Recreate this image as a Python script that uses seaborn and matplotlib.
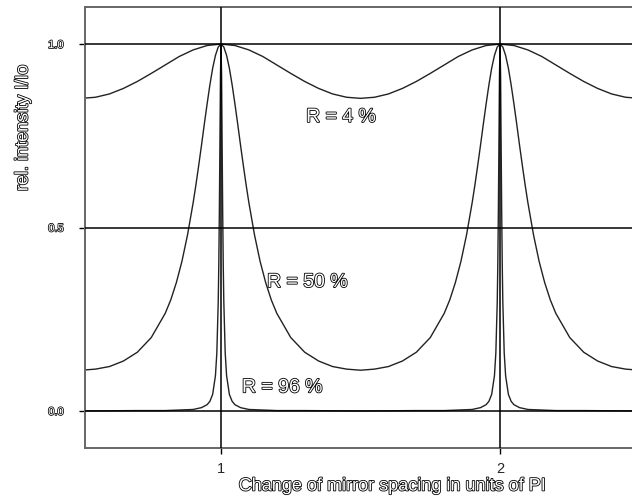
import matplotlib
matplotlib.use("Agg")
import matplotlib.pyplot as plt
import matplotlib.patheffects as pe
import numpy as np
import pandas as pd
import seaborn as sns

# ---- data ----
x_r04 = [0.50, 0.55, 0.60, 0.65, 0.70, 0.75, 0.80, 0.85, 0.90, 0.95,
         1.00, 1.05, 1.10, 1.15, 1.20, 1.25, 1.30, 1.35, 1.40, 1.45,
         1.50, 1.55, 1.60, 1.65, 1.70, 1.75, 1.80, 1.85, 1.90, 1.95,
         2.00, 2.05, 2.10, 2.15, 2.20, 2.25, 2.30, 2.35, 2.40, 2.45, 2.50]
y_r04 = [0.852, 0.855, 0.864, 0.879, 0.898, 0.920, 0.943, 0.966, 0.984, 0.996,
         1.000, 0.996, 0.984, 0.966, 0.943, 0.920, 0.898, 0.879, 0.864, 0.855,
         0.852, 0.855, 0.864, 0.879, 0.898, 0.920, 0.943, 0.966, 0.984, 0.996,
         1.000, 0.996, 0.984, 0.966, 0.943, 0.920, 0.898, 0.879, 0.864, 0.855, 0.852]

x_r50 = [0.50, 0.55, 0.60, 0.65, 0.70, 0.75, 0.80, 0.82, 0.84, 0.86, 0.88,
         0.90, 0.91, 0.92, 0.93, 0.94, 0.95, 0.96, 0.97, 0.98, 0.99,
         1.00, 1.01, 1.02, 1.03, 1.04, 1.05, 1.06, 1.07, 1.08, 1.09, 1.10,
         1.12, 1.14, 1.16, 1.18, 1.20, 1.25, 1.30, 1.35, 1.40, 1.45,
         1.50, 1.55, 1.60, 1.65, 1.70, 1.75, 1.80, 1.82, 1.84, 1.86, 1.88,
         1.90, 1.91, 1.92, 1.93, 1.94, 1.95, 1.96, 1.97, 1.98, 1.99,
         2.00, 2.01, 2.02, 2.03, 2.04, 2.05, 2.06, 2.07, 2.08, 2.09, 2.10,
         2.12, 2.14, 2.16, 2.18, 2.20, 2.25, 2.30, 2.35, 2.40, 2.45, 2.50]
y_r50 = [0.111, 0.114, 0.121, 0.136, 0.160, 0.200, 0.266, 0.303, 0.350, 0.408, 0.480,
         0.567, 0.616, 0.669, 0.724, 0.781, 0.836, 0.888, 0.934, 0.969, 0.992,
         1.000, 0.992, 0.969, 0.934, 0.888, 0.836, 0.781, 0.724, 0.669, 0.616, 0.567,
         0.480, 0.408, 0.350, 0.303, 0.266, 0.200, 0.160, 0.136, 0.121, 0.114,
         0.111, 0.114, 0.121, 0.136, 0.160, 0.200, 0.266, 0.303, 0.350, 0.408, 0.480,
         0.567, 0.616, 0.669, 0.724, 0.781, 0.836, 0.888, 0.934, 0.969, 0.992,
         1.000, 0.992, 0.969, 0.934, 0.888, 0.836, 0.781, 0.724, 0.669, 0.616, 0.567,
         0.480, 0.408, 0.350, 0.303, 0.266, 0.200, 0.160, 0.136, 0.121, 0.114, 0.111]

x_r96 = [0.50, 0.70, 0.80, 0.90, 0.93, 0.95, 0.96, 0.97, 0.98, 0.985, 0.99,
         0.992, 0.994, 0.996, 0.998, 1.000, 1.002, 1.004, 1.006, 1.008, 1.01,
         1.015, 1.02, 1.03, 1.04, 1.05, 1.07, 1.10, 1.20, 1.30, 1.50,
         1.70, 1.80, 1.90, 1.93, 1.95, 1.96, 1.97, 1.98, 1.985, 1.99,
         1.992, 1.994, 1.996, 1.998, 2.000, 2.002, 2.004, 2.006, 2.008, 2.01,
         2.015, 2.02, 2.03, 2.04, 2.05, 2.07, 2.10, 2.20, 2.30, 2.50]
y_r96 = [0.000, 0.001, 0.001, 0.004, 0.009, 0.017, 0.026, 0.045, 0.096, 0.158, 0.297,
         0.397, 0.540, 0.725, 0.914, 1.000, 0.914, 0.725, 0.540, 0.397, 0.297,
         0.158, 0.096, 0.045, 0.026, 0.017, 0.009, 0.004, 0.001, 0.001, 0.000,
         0.001, 0.001, 0.004, 0.009, 0.017, 0.026, 0.045, 0.096, 0.158, 0.297,
         0.397, 0.540, 0.725, 0.914, 1.000, 0.914, 0.725, 0.540, 0.397, 0.297,
         0.158, 0.096, 0.045, 0.026, 0.017, 0.009, 0.004, 0.001, 0.001, 0.000]

labels = ["R = 4 %", "R = 50 %", "R = 96 %"]
label_pos = [(1.305, 0.80), (1.165, 0.35), (1.075, 0.063)]
yticks = [0.0, 0.5, 1.0]
ytick_labels = ["0.0", "0.5", "1.0"]
xticks = [1, 2]
xtick_labels = ["1", "2"]

df = pd.concat([
    pd.DataFrame({"x": x_r04, "y": y_r04, "R": labels[0]}),
    pd.DataFrame({"x": x_r50, "y": y_r50, "R": labels[1]}),
    pd.DataFrame({"x": x_r96, "y": y_r96, "R": labels[2]}),
])

sns.set_style("white")
plt.rcParams["font.family"] = ["Liberation Sans", "DejaVu Sans"]

fig = plt.figure(figsize=(6.32, 5.0), dpi=100)
ax = fig.add_axes([85 / 632, 52 / 500, 547 / 632, 441 / 500])

hollow = [pe.withStroke(linewidth=1.2, foreground="black")]

for g, sub in df.groupby("R", sort=False):
    sns.lineplot(data=sub, x="x", y="y", ax=ax, color="#222222", linewidth=1.0,
                 estimator=None, sort=False, legend=False)

ax.set_xlim(0.5125, 2.473)
ax.set_ylim(-0.101, 1.101)

for yv in yticks:
    ax.axhline(yv, color="black", linewidth=1.1, zorder=3)
for xv in xticks:
    ax.axvline(xv, color="black", linewidth=1.1, zorder=3)

ax.set_yticks(yticks)
ax.set_yticklabels(ytick_labels)
ax.set_xticks(xticks)
ax.set_xticklabels(xtick_labels)
ax.tick_params(axis="y", direction="out", length=4.5, width=1.0, color="black",
               pad=11, labelsize=8, left=True)
ax.tick_params(axis="x", direction="out", length=4, width=1.0, color="black",
               pad=6, labelsize=10.5, bottom=True)
for t in ax.get_yticklabels():
    t.set_color("white")
    t.set_path_effects([pe.withStroke(linewidth=1.1, foreground="black")])

for side in ["left", "top", "bottom"]:
    ax.spines[side].set_color("#666666")
    ax.spines[side].set_linewidth(1.4)
ax.spines["right"].set_visible(False)

ax.set_xlabel("Change of mirror spacing in units of PI", fontsize=13, color="white",
              path_effects=hollow)
ax.xaxis.set_label_coords((392 - 85) / 547, (448 - 486) / 441)
ax.xaxis.label.set_va("center")
ax.set_ylabel("rel. intensity I/Io", fontsize=13, color="white", path_effects=hollow)
ax.yaxis.set_label_coords((23 - 85) / 547, (448 - 128) / 441)
ax.yaxis.label.set_va("center")

for txt, (tx, ty) in zip(labels, label_pos):
    ax.text(tx, ty, txt, fontsize=14, color="white", path_effects=hollow,
            ha="left", va="center", zorder=5)

fig.savefig("out.png", dpi=100)
